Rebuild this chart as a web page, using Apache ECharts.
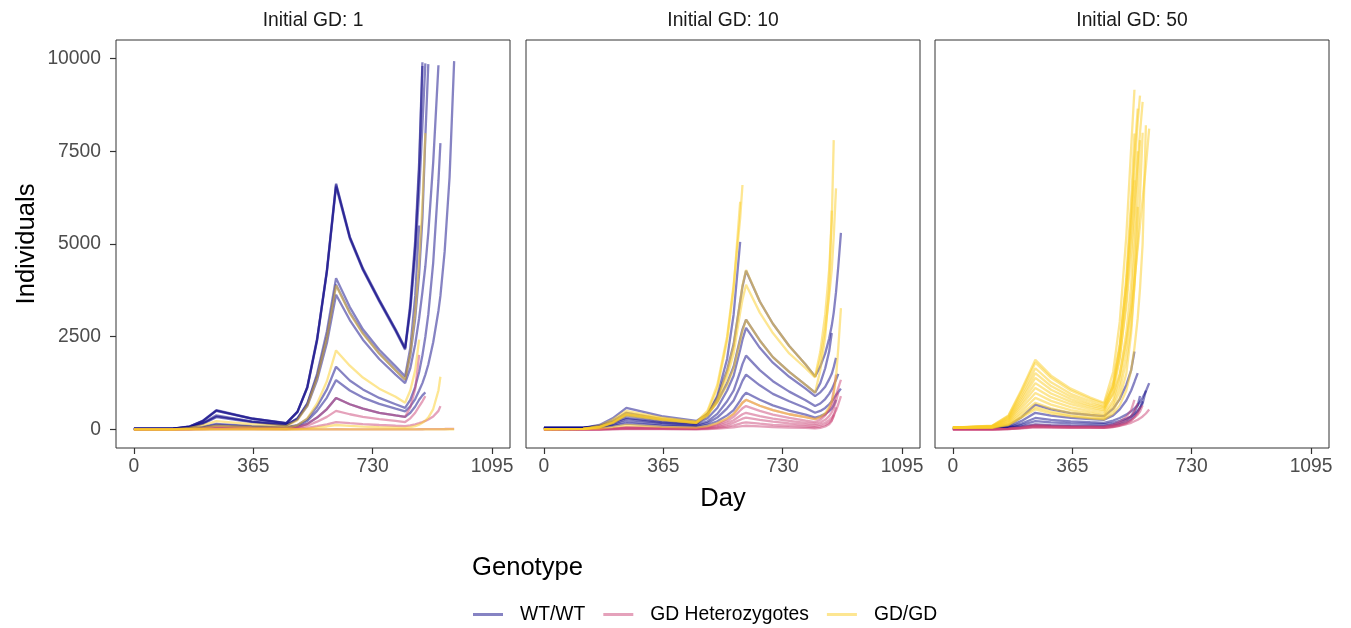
<!DOCTYPE html>
<html>
<head>
<meta charset="utf-8">
<script src="https://cdn.jsdelivr.net/npm/echarts@6/dist/echarts.min.js"></script>
<style>
html,body{margin:0;padding:0;background:#fff;}
#chart{width:1351px;height:628px;}
</style>
</head>
<body>
<div id="chart"></div>
<script>
// ---------------- DATA ----------------
const panelTitles = ['Initial GD: 1', 'Initial GD: 10', 'Initial GD: 50'];
const genotypes = ['WT/WT', 'GD Heterozygotes', 'GD/GD'];
const xTicks = [0, 365, 730, 1095];
const yTicks = [0, 2500, 5000, 7500, 10000];

// Panel 1 (Initial GD: 1)
const days1 = [0,120,170,210,252,360,466,500,530,560,590,618,660,700,750,800,829,845,860,872,882,891,900,915,931,937,950,965,979];
const p1WT = [
  [20,25,80,230,520,300,170,480,1150,2450,4300,6630,5200,4350,3500,2700,2200,3400,5100,7200,9900],
  [20,25,75,220,500,290,165,470,1120,2400,4250,6550,5150,4300,3450,2650,2150,3300,4950,7000,9800],
  [20,25,78,225,510,295,168,475,1130,2420,4270,6600,5180,4320,3480,2680,2180,3200,4700,6400,8200,9870],
  [15,20,60,170,380,220,120,300,700,1500,2650,4080,3300,2700,2150,1700,1430,2200,3600,5500],
  [15,20,55,160,350,210,120,290,680,1430,2500,3900,3150,2600,2050,1600,1340,2000,3000,4200,5700,7900,9850],
  [15,20,50,150,330,200,110,270,630,1330,2330,3630,2950,2420,1900,1480,1250,1650,2300,3000,3700,4400,5300,7200,9820],
  [12,15,30,70,150,90,60,120,280,620,1080,1690,1320,1080,850,680,580,800,1150,1550,2000,2500,3100,4500,6700,7720],
  [12,15,25,55,120,75,50,100,230,500,860,1330,1050,860,690,560,490,620,820,1050,1250,1480,1750,2350,3200,3600,4800,6800,9930],
  [10,12,20,40,80,50,35,70,150,320,550,850,680,560,450,380,340,450,620,800,920,1000]
];
const p1Het = [
  [0,2,10,30,60,40,30,65,150,320,550,850,680,560,450,380,340,600,1100,2010],
  [0,1,4,10,20,14,10,20,45,90,140,200,170,145,120,100,90,110,140,170,200,230,270,350,500,630],
  [0,0,0,0,1,1,0,1,2,3,4,5,4,4,3,3,2,3,4,5,6,7,8,9,10,11,12,14,16],
  [0,2,8,20,40,28,20,45,100,210,340,500,410,340,280,230,200,300,450,620,760,900]
];
const p1GD = [
  [1,3,40,110,224,140,90,250,640,1400,2480,3880,3130,2580,2040,1590,1340,2050,3150,4500,6100,7990],
  [1,2,15,45,100,60,40,110,300,700,1300,2130,1720,1400,1100,880,720,1050,1600,2420],
  [1,1,2,5,10,7,5,10,25,50,80,120,95,75,60,48,40,60,90,130,180,240,320,550,1050,1420],
  [1,0,0,0,0,0,0,0,1,1,1,2,2,1,1,1,1,1,2,2,2,3,3,3,4,4,5,5,6]
];

// Panel 2 (Initial GD: 10)
const days2 = [0,120,170,210,252,360,466,500,530,560,580,600,607,618,660,700,750,800,829,845,860,872,880,886,893,900,908];
const p2WT = [
  [40,45,90,180,310,200,150,380,900,1900,3100,5060],
  [40,45,100,230,450,280,190,420,850,1600,2300,3450,3850,4280,3450,2850,2250,1750,1430,1700,2050,2450,2800,3150,3700,4400,5300],
  [40,45,120,300,580,360,230,420,750,1250,1700,2450,2700,2960,2400,1950,1550,1200,990,1250,1650,2100,2600],
  [40,45,90,200,380,240,160,300,580,1050,1450,2150,2420,2740,2200,1800,1420,1100,900,1000,1150,1350,1500,1680,1930],
  [40,42,70,150,280,180,120,220,420,760,1050,1560,1760,1990,1600,1300,1020,790,630,700,820,960,1080,1200,1340,1500],
  [40,42,60,120,220,140,95,170,320,570,780,1160,1310,1480,1190,960,760,580,450,500,580,680,760,840,930,1010,1100],
  [40,41,55,95,160,100,70,120,220,380,520,780,880,990,800,650,510,400,320,360,420,490,560,650,800]
];
const p2Het = [
  [0,2,10,30,60,40,30,70,150,290,420,640,720,800,640,520,410,330,280,320,400,520,640,760,920,1120,1340],
  [0,2,8,24,50,34,25,55,120,230,340,510,570,630,500,400,310,240,200,260,380,560,760,1050,1480],
  [0,1,6,18,40,27,20,42,90,170,250,370,410,450,360,290,230,180,150,190,260,360,460,580,760,1000],
  [0,1,5,14,30,20,15,30,65,120,180,260,290,320,260,210,165,125,100,130,180,250,320,400,510,680,900],
  [0,1,3,9,20,14,10,20,40,75,110,160,175,190,155,125,100,75,60,80,120,180,250,350,600],
  [0,0,2,5,10,7,5,10,20,40,58,85,92,100,82,66,52,40,30,45,80,140,230,400]
];
const p2GD = [
  [10,15,70,200,450,300,200,500,1200,2500,3900,5700,6590],
  [10,15,60,180,400,270,180,460,1100,2400,3800,6140],
  [10,15,65,190,420,270,180,400,830,1550,2250,3450,3880,4300,3450,2850,2250,1750,1430,2100,3100,4300,5600,7800],
  [10,15,60,170,380,250,170,370,760,1420,2050,3150,3500,3900,3150,2600,2050,1650,1400,1900,2700,3600,4300,5200,6500],
  [10,15,100,260,500,320,210,400,720,1200,1650,2400,2660,2960,2400,1950,1550,1200,990,1600,2500,3800,5900],
  [10,12,25,60,120,70,50,90,170,300,420,640,720,800,640,520,410,330,280,340,440,600,760,950,1400,2200,3270]
];

// Panel 3 (Initial GD: 50)
const days3 = [0,120,170,210,252,300,360,420,462,490,510,530,545,555,565,572,580,590,600];
const p3WT = [
  [20,30,110,330,670,540,440,390,360,560,820,1200,1600,2100],
  [20,28,80,230,450,370,310,280,260,380,540,780,1050,1280,1520],
  [20,25,60,160,310,260,220,195,180,240,310,400,490,570,660,740,860,1030,1250],
  [20,24,50,120,225,190,165,150,140,180,230,290,350,420,500,580,760],
  [20,22,40,80,135,115,100,95,90,130,180,260,360,480,650,900],
  [20,21,35,65,100,90,80,75,70,100,140,200,280,370,480,580,700,1050]
];
const p3Het = [
  [0,5,20,60,120,100,85,80,75,130,210,340,520,800],
  [0,4,16,45,90,78,68,62,60,100,160,250,360,500,700],
  [0,3,12,35,70,60,52,48,45,70,100,140,180,220,260,300,350,430,540],
  [0,4,14,40,80,70,60,55,50,80,120,180,250,320,400,480,650],
  [0,3,10,30,60,52,46,42,40,65,100,160,240,330,450,600]
];
const p3GD = [
  [50,100,380,1080,1880,1450,1100,860,720,1550,2900,5200,7600,9160],
  [50,95,360,1030,1800,1390,1050,820,690,1300,2300,3900,5600,7000,8300,9000],
  [50,90,330,950,1650,1270,960,760,630,1150,1950,3300,4800,6000,7200,8000,8830],
  [50,85,300,870,1520,1170,890,700,600,1200,2200,3900,5900,7400,8650],
  [50,80,280,800,1390,1070,820,650,560,950,1500,2400,3300,4000,4900,5500,6200,7100,8110],
  [50,75,250,720,1250,970,750,600,520,1150,2200,4100,6200,7980],
  [50,70,230,650,1120,870,680,550,480,1000,1900,3500,5300,6720],
  [50,65,200,570,985,770,600,490,420,800,1450,2600,3900,5600,7500],
  [50,60,175,490,850,670,520,430,370,700,1250,2200,3300,4700,6300,7800],
  [50,55,150,420,720,570,450,380,330,600,1050,1850,2800,3900,5100,6300,8000],
  [50,52,130,350,600,480,380,320,290,500,850,1500,2600,3900,6000],
  [50,50,120,320,540,430,350,300,270,420,650,1050,1600,2200,3000,3800,5000,8200]
];

// ---------------- STYLE ----------------
const colors = ['#0D0887', '#CC4678', '#FCCE25'];
const legendColors = ['rgba(13,8,135,0.5)', 'rgba(204,70,120,0.5)', 'rgba(252,206,37,0.5)'];
const FONT = '"Liberation Sans", Arial, Helvetica, sans-serif';
const SMALL = 19.3;
const BIG = 25.6;
const panelLeft = [116, 526, 935];
const panelWidth = 394;
const panelTop = 40;
const panelHeight = 408;

const panels = [
  {days: days1, groups: [p1WT, p1Het, p1GD]},
  {days: days2, groups: [p2WT, p2Het, p2GD]},
  {days: days3, groups: [p3WT, p3Het, p3GD]}
];

const grids = [], xAxes = [], yAxes = [], series = [], titles = [];
panels.forEach((p, pi) => {
  grids.push({left: panelLeft[pi], top: panelTop, width: panelWidth, height: panelHeight,
    show: true, borderColor: '#333333', borderWidth: 1, backgroundColor: '#fff', containLabel: false});
  xAxes.push({
    type: 'value', gridIndex: pi, min: -54.75, max: 1149.75,
    name: pi === 1 ? 'Day' : '', nameLocation: 'middle', nameGap: 38,
    nameTextStyle: {fontFamily: FONT, fontSize: BIG, color: '#000'},
    axisLine: {show: false, onZero: false}, splitLine: {show: false},
    axisTick: {show: true, inside: false, length: 6, customValues: xTicks, lineStyle: {color: '#333333', width: 1.2}},
    axisLabel: {show: true, customValues: xTicks, fontFamily: FONT, fontSize: SMALL, color: '#4D4D4D', margin: 9,
      formatter: v => String(v)}
  });
  yAxes.push({
    type: 'value', gridIndex: pi, min: -500, max: 10500,
    name: pi === 0 ? 'Individuals' : '', nameLocation: 'middle', nameGap: 76,
    nameTextStyle: {fontFamily: FONT, fontSize: BIG, color: '#000'},
    axisLine: {show: false, onZero: false}, splitLine: {show: false},
    axisTick: {show: pi === 0, inside: false, length: 6, customValues: yTicks, lineStyle: {color: '#333333', width: 1.2}},
    axisLabel: {show: pi === 0, customValues: yTicks, fontFamily: FONT, fontSize: SMALL, color: '#4D4D4D', margin: 15,
      formatter: v => String(v)}
  });
  titles.push({text: panelTitles[pi], left: panelLeft[pi] + panelWidth / 2, top: 11, textAlign: 'center',
    padding: 0,
    textStyle: {fontFamily: FONT, fontSize: SMALL, fontWeight: 'normal', color: '#1A1A1A'}});
  p.groups.forEach((lines, gi) => {
    lines.forEach(vals => {
      series.push({
        type: 'line', name: genotypes[gi], xAxisIndex: pi, yAxisIndex: pi,
        data: vals.map((v, i) => [p.days[i], v]),
        showSymbol: false, symbol: 'none', silent: true,
        lineStyle: {color: colors[gi], width: 2.3, opacity: 0.5},
        itemStyle: {color: colors[gi]},
        emphasis: {disabled: true}, animation: false, z: 2
      });
    });
  });
});

const chart = echarts.init(document.getElementById('chart'), null, {renderer: 'canvas'});
chart.setOption({
  backgroundColor: '#ffffff',
  animation: false,
  title: titles,
  grid: grids,
  xAxis: xAxes,
  yAxis: yAxes,
  legend: {
    left: 468, top: 600, orient: 'horizontal', itemGap: 18, itemWidth: 30, itemHeight: 3,
    selectedMode: false,
    textStyle: {fontFamily: FONT, fontSize: SMALL, color: '#000', padding: [0, 0, 0, 12]},
    data: genotypes.map((g, i) => ({name: g, icon: 'rect', itemStyle: {color: legendColors[i]}}))
  },
  graphic: [{
    type: 'text', left: 472, top: 555,
    style: {text: 'Genotype', fontFamily: FONT, fontSize: BIG, fill: '#000'}
  }],
  series: series
});
</script>
</body>
</html>
